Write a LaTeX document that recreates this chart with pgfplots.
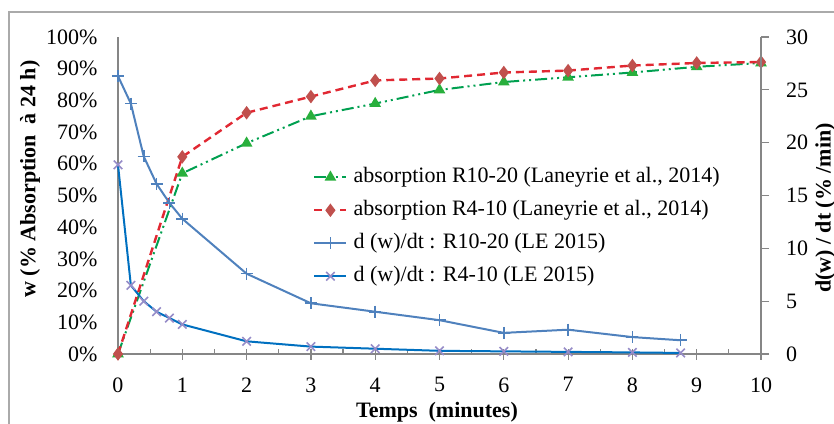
\documentclass[border=0pt]{standalone}
\usepackage{fontspec}
\setmainfont{Liberation Serif}
\usepackage{pgfplots}
\pgfplotsset{compat=1.18}
\definecolor{axgray}{RGB}{134,134,134}
\definecolor{cgreen}{RGB}{0,160,80}
\definecolor{cgreenm}{RGB}{40,175,60}
\definecolor{cred}{RGB}{225,40,50}
\definecolor{credm}{RGB}{192,80,77}
\definecolor{cblue}{RGB}{79,129,189}
\definecolor{cblue2}{RGB}{0,112,192}
\definecolor{cxm}{RGB}{150,140,200}
\begin{document}
\begin{tikzpicture}
\pgfplotsset{
  every axis/.append style={font=\fontsize{11}{13}\selectfont},
  /pgf/number format/assume math mode=true,
  greenstyle/.style={color=cgreen, line width=1pt, dash pattern=on 6pt off 2pt on 1pt off 2pt on 1pt off 2pt, mark=triangle*, mark size=2.4pt, mark options={solid, fill=cgreenm, draw=cgreenm}},
  redstyle/.style={color=cred, line width=1.2pt, dash pattern=on 4pt off 2.5pt, mark=diamond*, mark size=2.4pt, mark options={solid, fill=credm, draw=credm}},
  blueplus/.style={color=cblue, line width=1pt, mark=+, mark size=3pt, mark options={solid, line width=0.8pt}},
  bluex/.style={color=cblue2, line width=1pt, mark=x, mark size=3pt, mark options={solid, draw=cxm, line width=0.8pt}},
}
\useasboundingbox (-59pt,-34.5pt) rectangle (358pt,177pt);
\draw[axgray!70, line width=0.6pt] (-54.5pt,-60pt) -- (-54.5pt,171pt) -- (420pt,171pt);

\begin{axis}[
  at={(0pt,0pt)}, anchor=south west, scale only axis,
  width=321.5pt, height=158.5pt,
  xmin=0, xmax=10, ymin=0, ymax=100,
  axis x line*=bottom, axis y line*=left,
  axis line style={axgray, line width=0.6pt, -},
  xtick={0,...,10},
  extra x ticks={0.5,1.5,...,9.5},
  extra x tick labels={},
  extra x tick style={tick align=inside, major tick length=2.5pt},
  ytick={0,10,...,100},
  yticklabel={\pgfmathprintnumber{\tick}\%},
  tick align=center, major tick length=5.5pt,
  ytick style={draw=none},
  tick style={axgray, line width=0.6pt},
  xticklabel style={yshift=-5.5pt},
  yticklabel style={xshift=-4pt},
  clip=false,
]
\addplot[greenstyle] coordinates {(0,0) (1,57) (2,66.5) (3,75) (4,79) (5,83.3) (6,85.8) (7,87.3) (8,88.8) (9,90.6) (10,91.8)};
\addplot[redstyle] coordinates {(0,0) (1,62.2) (2,76.1) (3,81.2) (4,86.3) (5,86.9) (6,88.8) (7,89.4) (8,91) (9,91.8) (10,92.1)};
\end{axis}

\begin{axis}[
  at={(0pt,0pt)}, anchor=south west, scale only axis,
  width=321.5pt, height=158.5pt,
  xmin=0, xmax=10, ymin=0, ymax=30,
  axis x line=none, axis y line*=right,
  axis line style={axgray, line width=0.6pt, -},
  ytick={0,5,...,30},
  tick align=outside, major tick length=4pt,
  tick style={axgray, line width=0.6pt},
  yticklabel style={xshift=5pt},
  clip=false,
  legend image code/.code={\draw[mark repeat=2, mark phase=2, #1] plot coordinates {(0pt,0pt) (8pt,0pt) (16pt,0pt)}; \path (18.5pt,0pt);},
  legend style={at={(0.303,0.595)}, anchor=north west, draw=none, fill=none, inner sep=0pt, row sep=5pt,
    nodes={inner sep=0.5pt, text height=8pt, text depth=2.5pt}},
  legend cell align=left,
]
\addlegendimage{greenstyle}
\addlegendentry{absorption R10-20 (Laneyrie et al., 2014)}
\addlegendimage{redstyle}
\addlegendentry{absorption R4-10 (Laneyrie et al., 2014)}
\addplot[blueplus] coordinates {(0,26.3) (0.2,23.7) (0.4,18.7) (0.6,16.1) (0.8,14.3) (1,12.8) (2,7.6) (3,4.8) (4,4.0) (5,3.2) (6,2.0) (7,2.3) (8,1.6) (8.75,1.3)};
\addlegendentry{d (w)/dt : R10-20 (LE 2015)}
\addplot[bluex] coordinates {(0,17.9) (0.2,6.5) (0.4,5.0) (0.6,4.0) (0.8,3.4) (1,2.8) (2,1.2) (3,0.7) (4,0.5) (5,0.3) (6,0.25) (7,0.2) (8,0.15) (8.75,0.1)};
\addlegendentry{d (w)/dt : R4-10 (LE 2015)}
\end{axis}

\node[rotate=90, font=\fontsize{11}{13}\selectfont\bfseries] at (-44pt,87.5pt) {w (\% Absorption~ à 24 h)};
\node[rotate=90, anchor=north, inner sep=0pt, font=\fontsize{11}{13}\selectfont\bfseries] at (348.5pt,73pt) {d(w) / dt (\% /min)};
\node[anchor=base, inner sep=0pt, font=\fontsize{11}{13}\selectfont\bfseries] at (159.5pt,-31.5pt) {Temps~ (minutes)};
\end{tikzpicture}
\end{document}
